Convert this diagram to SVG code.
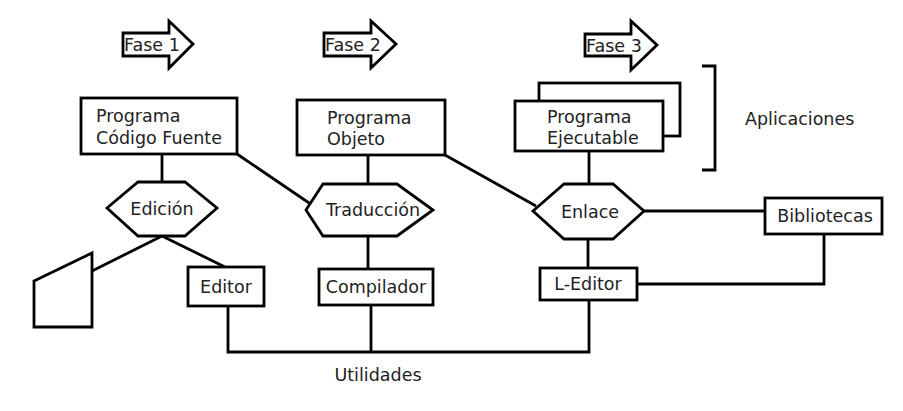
<svg xmlns="http://www.w3.org/2000/svg" width="903" height="411" viewBox="0 0 903 411">
<style>
.s{fill:#fff;stroke:#000;stroke-width:2.8;stroke-linejoin:miter}
.l{fill:none;stroke:#000;stroke-width:2.8}
text{font-family:"DejaVu Sans",Verdana,sans-serif;font-size:17.5px;fill:#222}
.c{text-anchor:middle}
</style>
<rect width="903" height="411" fill="#fff"/>
<g id="connectors">
<path class="l" d="M162,154 V183"/>
<path class="l" d="M237,154 L312,205"/>
<path class="l" d="M368,155 V185"/>
<path class="l" d="M445,155 L536,206"/>
<path class="l" d="M589,151 V185"/>
<path class="l" d="M162,236 L92,271"/>
<path class="l" d="M162,236 L225,267"/>
<path class="l" d="M368,236 V269"/>
<path class="l" d="M588,239 V268"/>
<path class="l" d="M644,211 H765"/>
<path class="l" d="M824,234 V284 H637"/>
<path class="l" d="M228,306 V352 H589 V300"/>
<path class="l" d="M371,305 V352"/>
</g>
<g id="fase1">
<polygon class="s" points="123,33 169,33 169,21 193,44 169,68 169,56 123,56"/>
<text x="124" y="51">Fase 1</text>
</g>
<g id="fase2">
<polygon class="s" points="324,33 371,33 371,21 396,44 371,68 371,56 324,56"/>
<text x="325" y="51">Fase 2</text>
</g>
<g id="fase3">
<polygon class="s" points="585,34 631,34 631,21 657,45 631,70 631,56 585,56"/>
<text x="586" y="52">Fase 3</text>
</g>
<g id="codigo-fuente">
<rect class="s" x="81" y="98" width="156" height="56"/>
<text x="96" y="122">Programa</text>
<text x="96" y="144">Código Fuente</text>
</g>
<g id="objeto">
<rect class="s" x="297" y="100" width="148" height="55"/>
<text x="327" y="124">Programa</text>
<text x="327" y="145">Objeto</text>
</g>
<g id="ejecutable">
<rect class="s" x="539" y="83" width="141" height="53"/>
<rect class="s" x="515" y="101" width="148" height="50"/>
<text x="547" y="123">Programa</text>
<text x="547" y="144">Ejecutable</text>
</g>
<g id="aplicaciones">
<path class="l" d="M702,66 H715 V170 H702"/>
<text x="745" y="125">Aplicaciones</text>
</g>
<g id="edicion">
<polygon class="s" points="107,208 138,182 185,182 217,208 185,236 138,236"/>
<text class="c" x="162" y="215">Edición</text>
</g>
<g id="traduccion">
<polygon class="s" points="306,210 323,184 397,184 433,210 397,236 323,236"/>
<text class="c" x="373" y="216">Traducción</text>
</g>
<g id="enlace">
<polygon class="s" points="533,211 564,184 613,184 644,211 613,239 564,239"/>
<text class="c" x="590" y="218">Enlace</text>
</g>
<g id="terminal">
<polygon class="s" points="34,281 92,253 92,327 34,327"/>
</g>
<g id="editor">
<rect class="s" x="188" y="267" width="76" height="39"/>
<text class="c" x="226" y="293">Editor</text>
</g>
<g id="compilador">
<rect class="s" x="319" y="269" width="114" height="36"/>
<text class="c" x="376" y="293">Compilador</text>
</g>
<g id="l-editor">
<rect class="s" x="540" y="268" width="97" height="32"/>
<text class="c" x="588" y="290">L-Editor</text>
</g>
<g id="bibliotecas">
<rect class="s" x="765" y="198" width="117" height="36"/>
<text class="c" x="825" y="222">Bibliotecas</text>
</g>
<g id="utilidades">
<text class="c" x="378" y="381">Utilidades</text>
</g>
</svg>
